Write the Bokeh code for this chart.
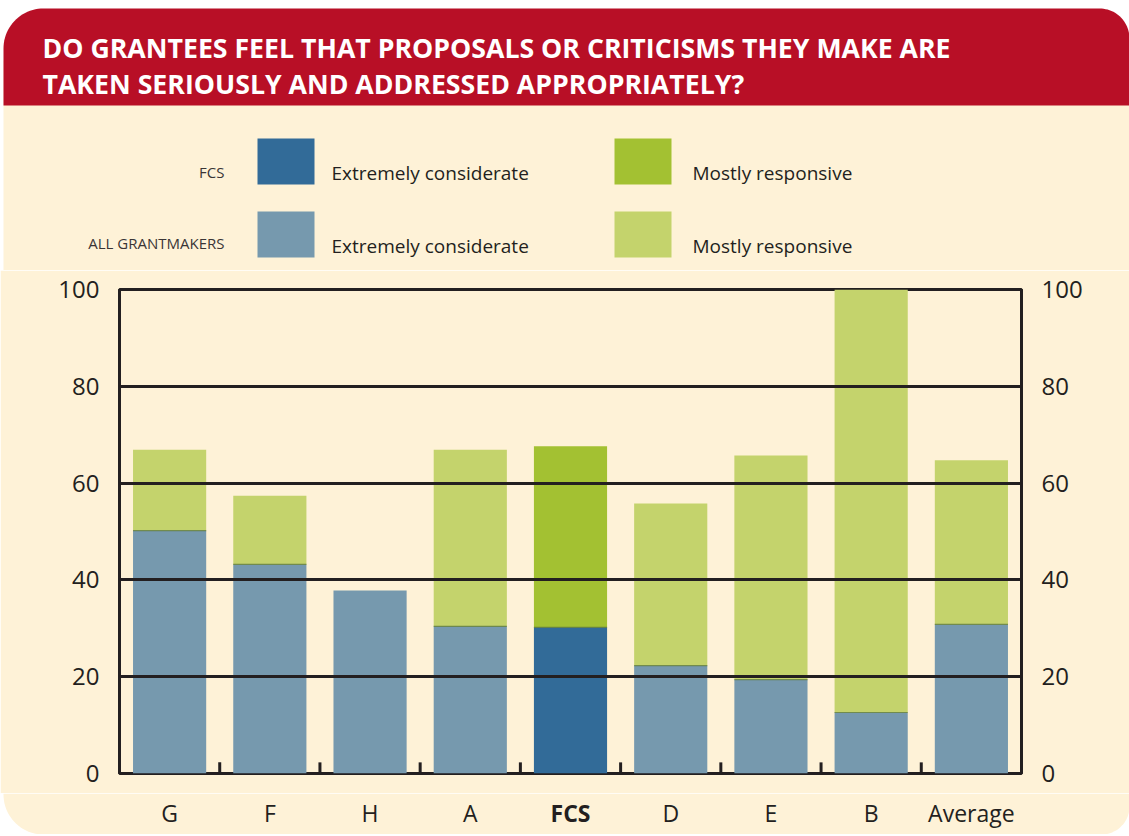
from bokeh.plotting import figure
from bokeh.models import ColumnDataSource, FactorRange, Range1d, LinearAxis, FixedTicker
from bokeh.embed import file_html
from bokeh.resources import INLINE
from bokeh.core.properties import value
import numpy as np

# ---------------- data ----------------
categories = ["G", "F", "H", "A", "FCS", "D", "E", "B", "Average"]
extremely_considerate = [50.2, 43.2, 37.8, 30.4, 30.2, 22.3, 19.4, 12.6, 30.8]
mostly_responsive = [16.7, 14.2, 0.0, 36.5, 37.4, 33.5, 46.3, 87.4, 33.9]
y_ticks = [0, 20, 40, 60, 80, 100]

title_lines = ["DO GRANTEES FEEL THAT PROPOSALS OR CRITICISMS THEY MAKE ARE",
               "TAKEN SERIOUSLY AND ADDRESSED APPROPRIATELY?"]
legend_rows = ["FCS", "ALL GRANTMAKERS"]
legend_series = ["Extremely considerate", "Mostly responsive"]

# ---------------- styles ----------------
RED = "#B80F26"
CREAM = "#FEF2D7"
DARK = "#231F20"
FCS_BLUE = "#326B98"
ALL_BLUE = "#7699AE"
FCS_GREEN = "#A3C132"
ALL_GREEN = "#C4D36C"
FONT = "Open Sans"

W = 1129
H1, H3 = 270, 41
MT, MB = 19, 20
FH = 484
H2 = MT + FH + MB
ML, MR = 119, 108
NC = len(categories)
U = (W - ML - MR) / NC          # px per category

# ---------------- header (title + legend) ----------------
hdr = figure(width=W, height=H1, x_range=Range1d(0, W), y_range=Range1d(H1, 0),
             x_axis_type=None, y_axis_type=None, toolbar_location=None,
             output_backend="svg", min_border=0, outline_line_color=None,
             background_fill_color="white", border_fill_color="white")
hdr.quad(left=3, right=W, top=60, bottom=H1, fill_color=CREAM, line_color=None)

x0b, y0b, y1b, r1, r2 = 3, 8, 105, 40, 30
t1 = np.linspace(np.pi, 1.5 * np.pi, 24)
t2 = np.linspace(1.5 * np.pi, 2 * np.pi, 24)
xs = [x0b, x0b] + list(x0b + r1 + r1 * np.cos(t1)) + list(W - r2 + r2 * np.cos(t2)) + [W]
ys = [y1b, y0b + r1] + list(y0b + r1 + r1 * np.sin(t1)) + list(y0b + r2 + r2 * np.sin(t2)) + [y1b]
hdr.patch(xs, ys, fill_color=RED, line_color=None)

hdr.text(x=[42, 42], y=[47, 83], text=title_lines, text_font=value(FONT),
         text_font_style="bold", text_font_size="26.7px", text_color="white",
         text_baseline="alphabetic", text_align="left")

box_colors = [[FCS_BLUE, FCS_GREEN], [ALL_BLUE, ALL_GREEN]]
row_top = [138, 211]
row_lab_base = [171, 242]
row_txt_base = [172, 245]
col_left = [257, 614]
text_left = [331, 692]
for i, row in enumerate(legend_rows):
    hdr.text(x=[224], y=[row_lab_base[i]], text=[row], text_font=value(FONT),
             text_font_size="15px", text_color="#3a3536", text_align="right",
             text_baseline="alphabetic")
    for j, s in enumerate(legend_series):
        hdr.quad(left=col_left[j], right=col_left[j] + 57, top=row_top[i],
                 bottom=row_top[i] + 46, fill_color=box_colors[i][j], line_color=None)
        hdr.text(x=[text_left[j]], y=[row_txt_base[i]], text=[s], text_font=value(FONT),
                 text_font_size="19px", text_color=DARK, text_align="left",
                 text_baseline="alphabetic")

# ---------------- chart ----------------
totals = [a + b for a, b in zip(extremely_considerate, mostly_responsive)]
src = ColumnDataSource(dict(
    cat=categories,
    considerate=extremely_considerate,
    total=totals,
    c1=[FCS_BLUE if c == "FCS" else ALL_BLUE for c in categories],
    c2=[FCS_GREEN if c == "FCS" else ALL_GREEN for c in categories],
    style=["bold" if c == "FCS" else "normal" for c in categories],
    ylab=[19] * NC,
))

p = figure(width=W, height=H2, x_range=FactorRange(*categories), y_range=Range1d(0, 100),
           x_axis_location=None, toolbar_location=None, output_backend="svg",
           min_border_left=ML, min_border_right=MR, min_border_top=MT, min_border_bottom=MB,
           background_fill_color=CREAM, border_fill_color=CREAM,
           outline_line_color=DARK, outline_line_width=3)

BW = 0.73
p.vbar(x="cat", bottom=0, top="considerate", width=BW, fill_color="c1",
       line_color=None, source=src)
p.vbar(x="cat", bottom="considerate", top="total", width=BW, fill_color="c2",
       line_color=None, source=src)
idx = [i for i, r in enumerate(mostly_responsive) if r > 0]
p.segment(x0=[i + 0.5 - BW / 2 for i in idx], x1=[i + 0.5 + BW / 2 for i in idx],
          y0=[extremely_considerate[i] for i in idx], y1=[extremely_considerate[i] for i in idx],
          line_width=1.2, line_color="#5E7A3C", line_alpha=0.8)

ticker = FixedTicker(ticks=y_ticks)
p.xgrid.visible = False
p.ygrid.ticker = ticker
p.ygrid.grid_line_color = DARK
p.ygrid.grid_line_width = 3
p.ygrid.level = "overlay"

bounds = [float(b) for b in range(1, NC)]
p.segment(x0=bounds, y0=[0.0] * len(bounds), x1=bounds, y1=[2.3] * len(bounds),
          line_width=3, line_color=DARK)

p.yaxis[0].ticker = ticker
rax = LinearAxis(ticker=ticker)
p.add_layout(rax, "right")
for ax in [p.yaxis[0], rax]:
    ax.major_tick_line_color = None
    ax.minor_tick_line_color = None
    ax.axis_line_width = 3
    ax.axis_line_color = DARK
    ax.major_label_text_font = FONT
    ax.major_label_text_font_size = "24px"
    ax.major_label_text_color = DARK
    ax.major_label_standoff = 14

# ---------------- category labels (with rounded panel corners) ----------------
pad = (ML + MR) / 2 / U
shift = ML - pad * U            # px correction for the asymmetric margins
lab = figure(width=W, height=H3,
             x_range=FactorRange(*categories, range_padding=pad, range_padding_units="absolute"),
             y_range=Range1d(H3, 0), x_axis_type=None, y_axis_type=None,
             toolbar_location=None, output_backend="svg", min_border=0,
             outline_line_color=None, background_fill_color="white",
             border_fill_color="white")


def sx(px):  # canvas px -> synthetic categorical coordinate of this figure
    return px / U - pad


rl, rr = 40, 28
a1 = np.linspace(np.pi, 0.5 * np.pi, 24)
a2 = np.linspace(0.5 * np.pi, 0.0, 24)
cx = [3, 3] + list(3 + rl + rl * np.cos(a1)) + list(W - rr + rr * np.cos(a2)) + [W]
cy = [0, H3 - rl] + list(H3 - rl + rl * np.sin(a1)) + list(H3 - rr + rr * np.sin(a2)) + [0]
lab.patch([sx(v) for v in cx], cy, fill_color=CREAM, line_color=None)

lab.text(x="cat", y="ylab", text="cat", source=src, text_font=value(FONT),
         text_font_style="style", text_font_size="23px", text_color=DARK,
         text_align="center", text_baseline="alphabetic", x_offset=shift)

open("out.html", "w").write(file_html([hdr, p, lab], INLINE))
